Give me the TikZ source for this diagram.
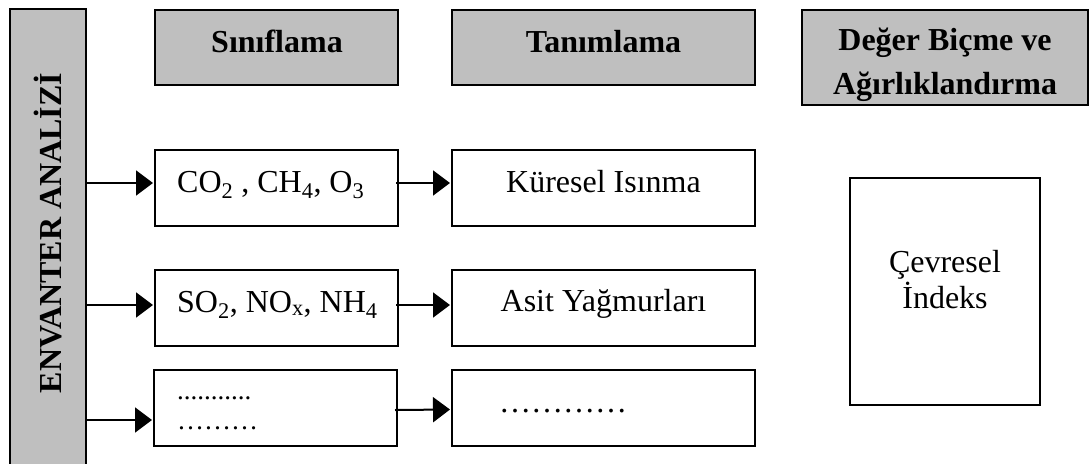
\documentclass[tikz,border=0pt]{standalone}
\usepackage{fontspec}
\setmainfont{Liberation Serif}
\usetikzlibrary{arrows.meta}

\tikzset{
  frame/.style={draw=black, line width=2pt, inner sep=0pt},
  hdrbox/.style={frame, fill=gray!50!white},
  plainbox/.style={frame, fill=white},
  hdrtext/.style={inner sep=0pt, font=\fontsize{32}{38}\selectfont\bfseries},
  bodytext/.style={inner sep=0pt, font=\fontsize{32}{38}\selectfont},
  smalltext/.style={inner sep=0pt, font=\fontsize{27}{32}\selectfont},
  link/.style={line width=2pt, shorten >=1pt, -{Triangle[length=17pt,width=25pt]}}
}

\begin{document}
\begin{tikzpicture}[x=1pt,y=-1pt]
\useasboundingbox (0,0) rectangle (1089,463);
\clip (0,0) rectangle (1089,463);

% inventory column on the left
\node[hdrbox, minimum width=76pt, minimum height=470pt] (env) at (48,244) {};
\node[hdrtext, rotate=90, anchor=base] (envlbl) at (61,233) {ENVANTER ANALİZİ};

% column headers
\node[hdrbox, minimum width=243pt, minimum height=75pt] (h1) at (276.5,47.5) {};
\node[hdrbox, minimum width=303pt, minimum height=75pt] (h2) at (603.5,47.5) {};
\node[hdrbox, minimum width=286pt, minimum height=95pt] (h3) at (945,57.5) {};
\node[hdrtext, anchor=base] (h1lbl) at (277,52) {Sınıflama};
\node[hdrtext, anchor=base] (h2lbl) at (603.5,52) {Tanımlama};
\node[hdrtext, anchor=base] (h3lbla) at (945,50) {Değer Biçme ve};
\node[hdrtext, anchor=base] (h3lblb) at (945,94) {Ağırlıklandırma};

% classification boxes
\node[plainbox, minimum width=243pt, minimum height=76pt] (c1) at (276.5,188) {};
\node[plainbox, minimum width=243pt, minimum height=76pt] (c2) at (276.5,308) {};
\node[plainbox, minimum width=243pt, minimum height=76pt] (c3) at (275.5,408) {};
\node[bodytext, anchor=base west] (c1lbl) at (177,192) {CO\textsubscript{2} , CH\textsubscript{4}, O\textsubscript{3}};
\node[bodytext, anchor=base west] (c2lbl) at (177,312) {SO\textsubscript{2}, NO\textsubscript{x}, NH\textsubscript{4}};
\node[smalltext, anchor=base west] (c3lbla) at (177,399) {...........};
\node[smalltext, anchor=base west] (c3lblb) at (177,429) {………};

% characterisation boxes
\node[plainbox, minimum width=303pt, minimum height=76pt] (t1) at (603.5,188) {};
\node[plainbox, minimum width=303pt, minimum height=76pt] (t2) at (603.5,308) {};
\node[plainbox, minimum width=303pt, minimum height=76pt] (t3) at (603.5,407.5) {};
\node[bodytext, anchor=base] (t1lbl) at (603.5,192) {Küresel Isınma};
\node[bodytext, anchor=base] (t2lbl) at (603.5,311) {Asit Yağmurları};
\node[bodytext, anchor=base west] (t3lbl) at (499,412) {…………};

% environmental index
\node[plainbox, minimum width=190pt, minimum height=227pt] (ci) at (945,291.5) {};
\node[bodytext, anchor=base] (cilbla) at (945,272) {Çevresel};
\node[bodytext, anchor=base] (cilblb) at (945,308) {İndeks};

% connectors
\draw[link] ([yshift=5pt]c1.west -| env.east) -- ([yshift=5pt]c1.west);
\draw[link] ([yshift=3pt]c2.west -| env.east) -- ([yshift=3pt]c2.west);
\draw[link] ([yshift=-12pt]c3.west -| env.east) -- ([yshift=-12pt]c3.west);
\draw[link] ([yshift=5pt,xshift=-3pt]c1.east) -- ([yshift=5pt]t1.west);
\draw[link] ([yshift=3pt,xshift=-3pt]c2.east) -- ([yshift=3pt]t2.west);
\draw[link] ([yshift=-2pt,xshift=-3pt]c3.east) -- ([yshift=-2pt]t3.west);
\end{tikzpicture}
\end{document}
